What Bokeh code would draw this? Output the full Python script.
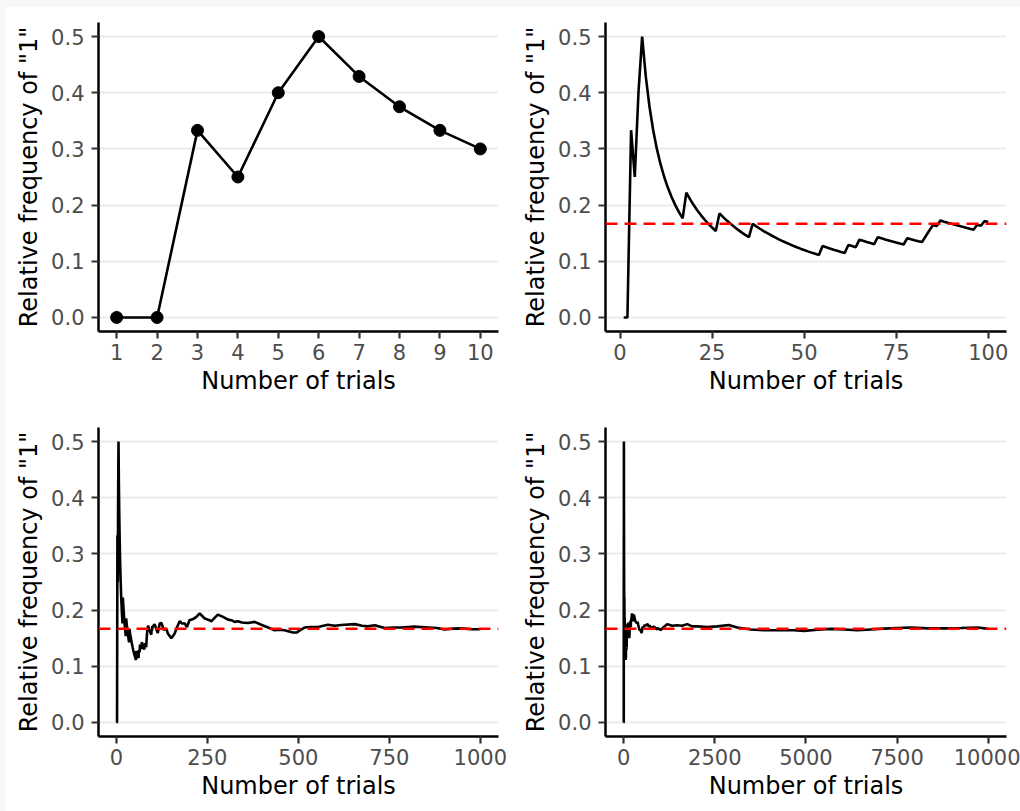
from bokeh.plotting import figure
from bokeh.models import Range1d, FixedTicker, NumeralTickFormatter, Span, Spacer
from bokeh.layouts import gridplot, column, row
from bokeh.embed import file_html
from bokeh.resources import INLINE
import numpy as np

# ---------------- data ----------------
# Panel 1: first 10 trials
trials_10 = [1, 2, 3, 4, 5, 6, 7, 8, 9, 10]
freq_10 = [0.0, 0.0, 0.333, 0.25, 0.4, 0.5, 0.429, 0.375, 0.333, 0.3]

# Trials (within the first 100) on which a "1" was rolled
ones_first_100 = [3, 5, 6, 18, 27, 36, 55, 62, 65, 70, 78, 83, 84, 85, 87, 97, 99]

# Readings of the running relative frequency, trials 101..1000
trials_101_1000 = [105, 114, 119, 124, 130, 137, 142, 151, 160, 166, 174, 181, 188, 194,
                   201, 211, 220, 229, 243, 256, 261, 270, 279, 293, 307, 316, 325, 334,
                   345, 362, 380, 398, 417, 435, 450, 462, 485, 495, 504, 517, 535, 554,
                   581, 600, 618, 655, 675, 691, 710, 737, 760, 783, 820, 856, 880, 902,
                   925, 948, 975, 1000]
freq_101_1000 = [0.175, 0.159, 0.176, 0.177, 0.165, 0.167, 0.158, 0.150, 0.158, 0.168,
                 0.180, 0.176, 0.176, 0.170, 0.182, 0.184, 0.188, 0.194, 0.185, 0.182,
                 0.180, 0.186, 0.192, 0.188, 0.183, 0.182, 0.179, 0.180, 0.178, 0.177,
                 0.179, 0.174, 0.169, 0.164, 0.165, 0.164, 0.160, 0.160, 0.164, 0.169,
                 0.170, 0.170, 0.174, 0.172, 0.1735, 0.175, 0.172, 0.171, 0.173, 0.168,
                 0.169, 0.169, 0.1705, 0.169, 0.168, 0.1655, 0.167, 0.1675, 0.166, 0.166]

# Readings of the running relative frequency, trials 1001..10000
trials_1001_10000 = [1008, 1100, 1192, 1330, 1467, 1600, 1742, 1880, 2016, 2291, 2566,
                     2885, 3115, 3481, 3846, 4214, 4670, 4945, 5313, 5678, 6044, 6412,
                     6777, 7143, 7511, 7876, 8335, 8791, 9250, 9709, 10000]
freq_1001_10000 = [0.164, 0.170, 0.175, 0.172, 0.173, 0.172, 0.175, 0.171, 0.171, 0.170,
                   0.171, 0.1735, 0.169, 0.1655, 0.164, 0.164, 0.164, 0.163, 0.165,
                   0.1665, 0.1655, 0.164, 0.1655, 0.167, 0.168, 0.169, 0.1675, 0.1675,
                   0.168, 0.169, 0.1665]

expected_p = 1 / 6
y_ticks = [0.0, 0.1, 0.2, 0.3, 0.4, 0.5]
x_ticks_10 = [1, 2, 3, 4, 5, 6, 7, 8, 9, 10]
x_ticks_100 = [0, 25, 50, 75, 100]
x_ticks_1000 = [0, 250, 500, 750, 1000]
x_ticks_10000 = [0, 2500, 5000, 7500, 10000]

# running relative frequency of the first 100 rolls
trials_100 = np.arange(1, 101)
is_one = np.isin(trials_100, ones_first_100).astype(float)
freq_100 = np.cumsum(is_one) / trials_100

trials_1000 = list(trials_100) + trials_101_1000
freq_1000 = list(freq_100) + freq_101_1000
trials_10000 = trials_1000 + trials_1001_10000
freq_10000 = freq_1000 + freq_1001_10000

FONT = "DejaVu Sans"
LW = 2.6


def padded(lo, hi):
    d = (hi - lo) * 0.05
    return (lo - d, hi + d)


def make_fig(w, h, xr, xticks, bl, br, bt, bb, fmt):
    p = figure(width=w, height=h, x_range=Range1d(*xr), y_range=Range1d(*padded(0, 0.5)),
               output_backend="svg", toolbar_location=None,
               min_border_left=bl, min_border_right=br, min_border_top=bt, min_border_bottom=bb)
    p.outline_line_color = None
    p.background_fill_color = "white"
    p.border_fill_color = "white"
    p.xgrid.visible = False
    p.ygrid.grid_line_color = "#EBEBEB"
    p.ygrid.grid_line_width = 2
    p.xaxis.ticker = FixedTicker(ticks=xticks)
    p.yaxis.ticker = FixedTicker(ticks=y_ticks)
    p.ygrid.ticker = FixedTicker(ticks=y_ticks)
    p.xaxis.formatter = NumeralTickFormatter(format=fmt)
    p.yaxis.formatter = NumeralTickFormatter(format="0.0")
    p.xaxis.axis_label = "Number of trials"
    p.yaxis.axis_label = 'Relative frequency of "1"'
    for ax in (p.xaxis[0], p.yaxis[0]):
        ax.axis_line_color = "black"
        ax.axis_line_width = 2.5
        ax.major_tick_line_color = "#333333"
        ax.major_tick_line_width = 2.2
        ax.major_tick_out = 7
        ax.major_tick_in = 0
        ax.minor_tick_line_color = None
        ax.major_label_text_font = FONT
        ax.major_label_text_font_size = "21px"
        ax.major_label_text_color = "#4D4D4D"
        ax.axis_label_text_font = FONT
        ax.axis_label_text_font_size = "24px"
        ax.axis_label_text_font_style = "normal"
        ax.axis_label_text_color = "black"
    p.yaxis.major_label_standoff = 7
    p.yaxis.axis_label_standoff = 5
    p.xaxis.major_label_standoff = 5
    p.xaxis.axis_label_standoff = 4
    return p


def add_ref(p):
    p.add_layout(Span(location=expected_p, dimension="width", line_color="#FF0000",
                      line_width=2.6, line_dash="12 7"))


# Panel 1
p1 = make_fig(505, 398, padded(1, 10), x_ticks_10, 93, 12, 15, 74, "0")
p1.line(trials_10, freq_10, line_color="black", line_width=LW)
p1.scatter(trials_10, freq_10, size=12, color="black")

# Panel 2
p2 = make_fig(510, 398, padded(1, 100), x_ticks_100, 95, 14, 15, 74, "0")
add_ref(p2)
p2.line(list(trials_100), list(freq_100), line_color="black", line_width=LW)

# Panel 3
p3 = make_fig(505, 406, padded(1, 1000), x_ticks_1000, 93, 12, 22, 75, "0")
add_ref(p3)
p3.line(trials_1000, freq_1000, line_color="black", line_width=LW)

# Panel 4
p4 = make_fig(510, 406, padded(1, 10000), x_ticks_10000, 95, 14, 22, 75, "0")
add_ref(p4)
p4.line(trials_10000, freq_10000, line_color="black", line_width=LW)

grid = gridplot([[p1, p2], [p3, p4]], toolbar_location=None)
bg = {"background-color": "#F8F8F8"}
layout = column(Spacer(width=1020, height=7, styles=bg),
                row(Spacer(width=5, height=804, styles=bg), grid))

open("out.html", "w").write(file_html(layout, INLINE))
